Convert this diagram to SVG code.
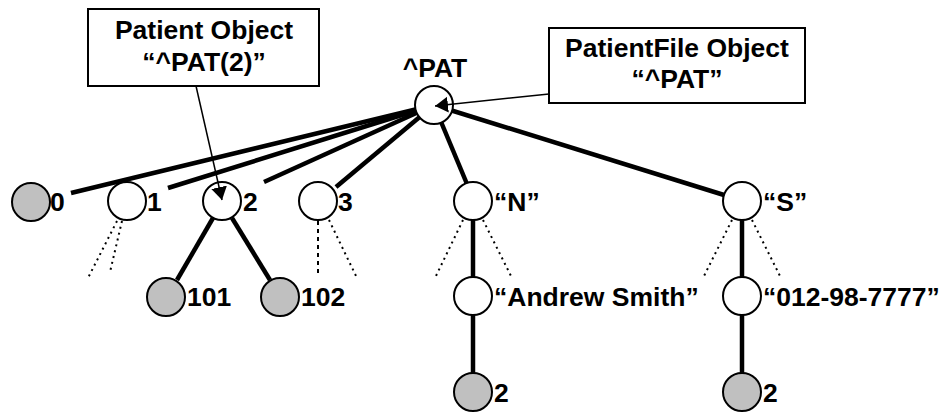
<svg xmlns="http://www.w3.org/2000/svg" width="940" height="413" viewBox="0 0 940 413">
  <style>
    text { font-family: "Liberation Sans", Arial, sans-serif; font-weight: bold; font-size: 26.5px; fill: #000; }
    .mid { text-anchor: middle; }
    .open { fill: #fff; stroke: #000; stroke-width: 2; }
    .leaf { fill: #c0c0c0; stroke: #000; stroke-width: 2; }
    .thick { stroke: #000; stroke-width: 4.5; fill: none; }
    .dot { stroke: #000; stroke-width: 2; stroke-dasharray: 2 4; fill: none; }
    .dash { stroke: #000; stroke-width: 2; stroke-dasharray: 4 4; fill: none; }
    .ptr { stroke: #000; stroke-width: 1.5; fill: none; marker-end: url(#head); }
    .box { fill: #fff; stroke: #000; stroke-width: 2; }
  </style>
  <defs>
    <marker id="head" markerUnits="userSpaceOnUse" markerWidth="14" markerHeight="18" refX="13" refY="8" orient="auto">
      <path d="M0,0 L13,8 L0,16 z" fill="#000"/>
    </marker>
  </defs>
  <rect width="940" height="413" fill="#fff"/>

  <!-- tree edges -->
  <g id="connectors">
    <line class="thick" x1="434" y1="105" x2="71" y2="193"/>
    <line class="thick" x1="434" y1="105" x2="168" y2="188"/>
    <line class="thick" x1="434" y1="105" x2="264" y2="182"/>
    <line class="thick" x1="434" y1="105" x2="336" y2="187"/>
    <line class="thick" x1="434" y1="105" x2="467" y2="184"/>
    <line class="thick" x1="434" y1="105" x2="724" y2="195"/>
    <line class="thick" x1="213" y1="218" x2="177" y2="280"/>
    <line class="thick" x1="232" y1="218" x2="270" y2="280"/>
    <line class="thick" x1="473" y1="220" x2="473" y2="278"/>
    <line class="thick" x1="473" y1="315" x2="473" y2="374"/>
    <line class="thick" x1="742" y1="220" x2="742" y2="278"/>
    <line class="thick" x1="742" y1="315" x2="742" y2="374"/>
    <!-- elided subtrees -->
    <line class="dot" x1="117" y1="221" x2="88" y2="278"/>
    <line class="dot" x1="122" y1="221" x2="110" y2="272"/>
    <line class="dash" x1="318" y1="221" x2="318" y2="274"/>
    <line class="dot" x1="329" y1="220" x2="357" y2="278"/>
    <line class="dot" x1="463" y1="220" x2="435" y2="278"/>
    <line class="dot" x1="483" y1="220" x2="512" y2="278"/>
    <line class="dot" x1="732" y1="220" x2="703" y2="278"/>
    <line class="dot" x1="752" y1="220" x2="781" y2="278"/>
  </g>

  <!-- nodes -->
  <g id="n-pat"><circle class="open" cx="434" cy="105" r="19"/><text class="mid" x="435" y="77">^PAT</text></g>
  <g id="n-0"><circle class="leaf" cx="31" cy="202" r="19"/><text x="50" y="211">0</text></g>
  <g id="n-1"><circle class="open" cx="127" cy="201" r="19"/><text x="147" y="211">1</text></g>
  <g id="n-2"><circle class="open" cx="222" cy="201" r="19"/><text x="243" y="211">2</text></g>
  <g id="n-3"><circle class="open" cx="318" cy="201" r="19"/><text x="338" y="211">3</text></g>
  <g id="n-N"><circle class="open" cx="473" cy="201" r="19"/><text x="494" y="211">“N”</text></g>
  <g id="n-S"><circle class="open" cx="742" cy="201" r="19"/><text x="763" y="211">“S”</text></g>
  <g id="n-101"><circle class="leaf" cx="166" cy="297" r="19"/><text x="187" y="306">101</text></g>
  <g id="n-102"><circle class="leaf" cx="280" cy="297" r="19"/><text x="301" y="306">102</text></g>
  <g id="n-name"><circle class="open" cx="473" cy="296" r="19"/><text x="494" y="306">“Andrew Smith”</text></g>
  <g id="n-ssn"><circle class="open" cx="742" cy="296" r="19"/><text x="763" y="306">“012-98-7777”</text></g>
  <g id="n-name-2"><circle class="leaf" cx="473" cy="392" r="19"/><text x="494" y="402">2</text></g>
  <g id="n-ssn-2"><circle class="leaf" cx="742" cy="392" r="19"/><text x="763" y="402">2</text></g>

  <!-- callouts -->
  <g id="callout-patient">
    <rect class="box" x="88" y="9" width="231" height="77"/>
    <text class="mid" x="204" y="39">Patient Object</text>
    <text class="mid" x="204" y="71">“^PAT(2)”</text>
  </g>
  <g id="callout-file">
    <rect class="box" x="549" y="28" width="256" height="75"/>
    <text class="mid" x="677" y="57">PatientFile Object</text>
    <text class="mid" x="677" y="88">“^PAT”</text>
  </g>
  <g id="pointers">
    <line class="ptr" x1="196" y1="86" x2="222" y2="200"/>
    <line class="ptr" x1="549" y1="94" x2="435" y2="106"/>
  </g>
</svg>
